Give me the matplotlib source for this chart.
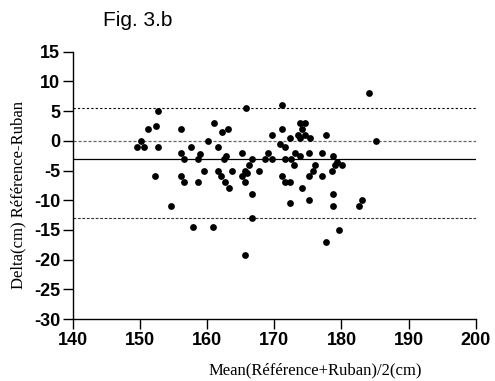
import matplotlib
matplotlib.use("Agg")
import matplotlib.pyplot as plt
import numpy as np

plt.rcParams["axes.unicode_minus"] = False

mean_vals = [152.7, 151.2, 152.4, 156.1, 150.2, 149.6, 150.7, 152.7, 157.6, 156.1,
             156.6, 159.0, 158.6, 161.1, 162.3, 163.1, 165.8, 160.1, 161.6, 162.8,
             162.6, 165.2, 166.7, 166.2, 152.2, 156.1, 156.6, 158.6, 159.6, 161.6,
             162.1, 162.7, 163.2, 163.7, 165.2, 165.7, 165.9, 165.7, 167.7, 166.7,
             154.7, 166.7, 157.9, 160.9, 165.7, 171.1, 173.8, 174.6, 174.1, 171.1,
             169.6, 173.6, 174.6, 173.9, 175.3, 172.4, 177.7, 170.9, 171.6, 169.1,
             173.1, 173.9, 175.1, 177.1, 178.8, 168.6, 169.6, 171.6, 172.5, 179.3,
             173.0, 179.1, 180.1, 176.1, 175.7, 178.6, 171.1, 175.1, 177.1, 171.6,
             172.3, 174.1, 178.7, 172.4, 175.1, 178.7, 182.6, 183.1, 179.7, 177.7,
             184.1, 185.2]
delta_vals = [5.0, 2.0, 2.5, 2.0, 0.0, -1.0, -1.0, -1.0, -1.0, -2.0,
              -3.0, -2.3, -3.0, 3.0, 1.5, 2.0, 5.5, 0.0, -1.0, -2.6,
              -3.0, -2.0, -3.0, -4.0, -6.0, -6.0, -7.0, -7.0, -5.0, -5.0,
              -6.0, -7.0, -8.0, -5.0, -6.0, -5.0, -5.5, -7.0, -5.0, -9.0,
              -11.0, -13.0, -14.5, -14.5, -19.2, 6.0, 3.0, 3.0, 2.0, 2.0,
              1.0, 1.0, 1.0, 0.5, 0.5, 0.5, 1.0, -0.5, -1.0, -2.0,
              -2.0, -2.6, -2.0, -2.0, -2.6, -3.0, -3.0, -3.0, -3.0, -3.5,
              -4.0, -4.0, -4.0, -4.0, -5.0, -5.0, -6.0, -6.0, -6.0, -7.0,
              -7.0, -8.0, -9.0, -10.5, -10.0, -11.0, -11.0, -10.0, -15.0, -17.0,
              8.0, 0.0]

bias = -3.1
upper_loa = 5.6
lower_loa = -13.0
zero_line = 0.0

x_ticks = [140, 150, 160, 170, 180, 190, 200]
y_ticks = [15, 10, 5, 0, -5, -10, -15, -20, -25, -30]

fig = plt.figure(figsize=(4.95, 3.81), dpi=100)
ax = fig.add_axes([0.1465, 0.1627, 0.815, 0.7016])

ax.scatter(mean_vals, delta_vals, s=24, color="black", marker="o", zorder=3, linewidths=0)
ax.axhline(bias, color="black", lw=0.9)
ax.axhline(upper_loa, color="black", lw=0.8, linestyle=(0, (2, 2)))
ax.axhline(lower_loa, color="#333333", lw=0.8, linestyle=(0, (2.5, 1.5)))
ax.axhline(zero_line, color="#666666", lw=0.9, linestyle=(0, (2.5, 1.5)))

ax.set_xlim(140, 200)
ax.set_ylim(-30, 15)
ax.set_xticks(x_ticks)
ax.set_yticks(y_ticks)
for s in ["top", "right"]:
    ax.spines[s].set_visible(False)
for s in ["left", "bottom"]:
    ax.spines[s].set_linewidth(1.0)
ax.tick_params(direction="out", length=7, width=1.0, pad=2)
for lab in ax.get_xticklabels() + ax.get_yticklabels():
    lab.set_fontfamily("Liberation Sans")
    lab.set_fontweight("bold")
    lab.set_fontsize(13)

fig.text(315 / 495, 1 - 370 / 381, "Mean(Référence+Ruban)/2(cm)", ha="center", va="center",
         fontfamily="Liberation Serif", fontsize=12)
fig.text(18 / 495, 1 - 195 / 381, "Delta(cm) Référence-Ruban", ha="center", va="center",
         rotation=90, fontfamily="Liberation Serif", fontsize=12)
fig.text(103 / 495, 1 - 20 / 381, "Fig. 3.b", ha="left", va="center",
         fontfamily="Liberation Sans", fontsize=15)

fig.savefig("out.png", dpi=100)
